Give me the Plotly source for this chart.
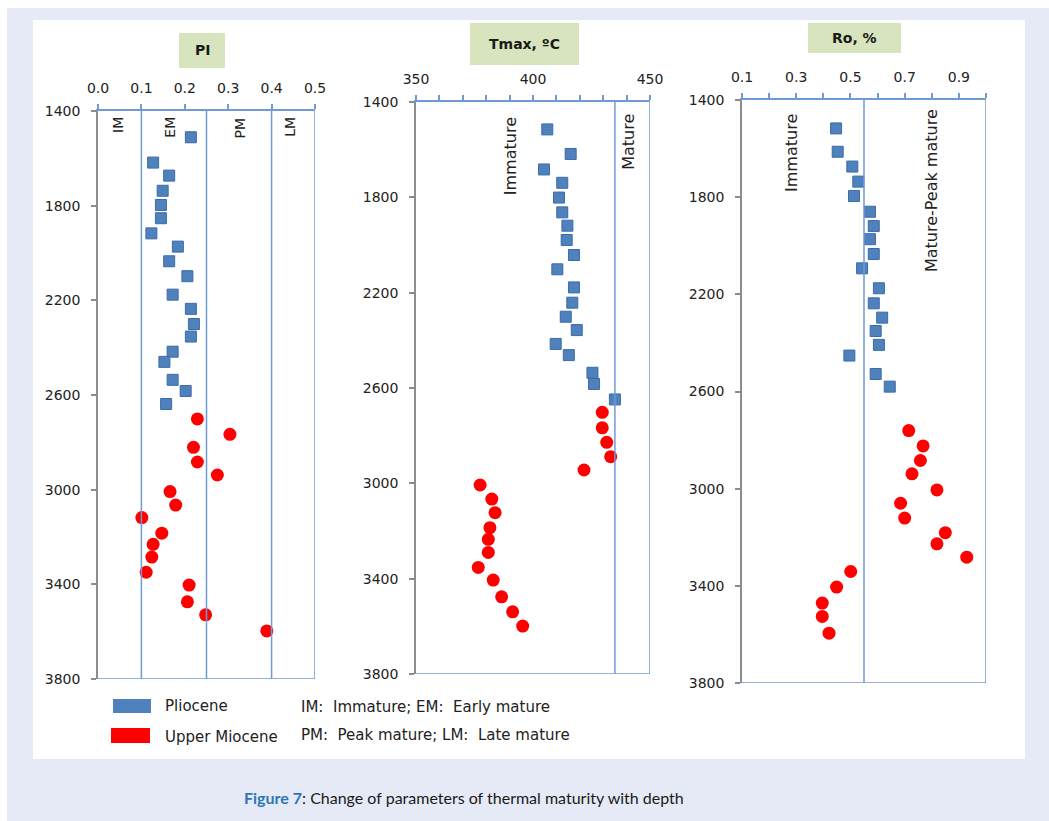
import plotly.graph_objects as go

W, H = 1049, 821

# ---------------- data ----------------
pi_plio_depth = [1511, 1618, 1673, 1737, 1797, 1853, 1917, 1973, 2035, 2098, 2176, 2236, 2300, 2353, 2417, 2460, 2536, 2583, 2638]
pi_plio = [0.214, 0.127, 0.164, 0.149, 0.145, 0.145, 0.123, 0.184, 0.164, 0.206, 0.172, 0.214, 0.221, 0.214, 0.172, 0.153, 0.172, 0.202, 0.157]
pi_mio_depth = [2701, 2766, 2821, 2883, 2938, 3008, 3065, 3118, 3184, 3231, 3285, 3349, 3403, 3474, 3529, 3597]
pi_mio = [0.229, 0.304, 0.220, 0.229, 0.275, 0.166, 0.179, 0.101, 0.147, 0.127, 0.124, 0.111, 0.210, 0.206, 0.248, 0.389]

tmax_plio_depth = [1515, 1618, 1683, 1739, 1801, 1863, 1919, 1979, 2042, 2102, 2178, 2242, 2301, 2357, 2415, 2462, 2536, 2583, 2648]
tmax_plio = [406.1, 416.1, 404.7, 412.5, 411.1, 412.5, 414.7, 414.4, 417.5, 410.4, 417.5, 416.8, 414.0, 418.7, 409.7, 415.3, 425.4, 426.1, 435.0]
tmax_mio_depth = [2702, 2767, 2828, 2888, 2944, 3007, 3066, 3123, 3186, 3235, 3290, 3353, 3406, 3476, 3539, 3599]
tmax_mio = [429.6, 429.6, 431.5, 433.2, 421.8, 377.4, 382.4, 383.8, 381.6, 380.9, 380.9, 376.6, 383.0, 386.6, 391.3, 395.6]

ro_plio_depth = [1517, 1613, 1674, 1736, 1795, 1860, 1919, 1973, 2034, 2093, 2175, 2237, 2296, 2351, 2408, 2452, 2528, 2580]
ro_plio = [0.447, 0.453, 0.507, 0.529, 0.513, 0.572, 0.586, 0.572, 0.586, 0.543, 0.605, 0.586, 0.617, 0.593, 0.605, 0.496, 0.593, 0.645]
ro_mio_depth = [2761, 2824, 2884, 2939, 3005, 3060, 3121, 3181, 3227, 3282, 3341, 3405, 3471, 3526, 3595]
ro_mio = [0.715, 0.768, 0.758, 0.727, 0.819, 0.685, 0.700, 0.850, 0.819, 0.929, 0.501, 0.449, 0.396, 0.396, 0.421]

depth_ticks = [1400, 1800, 2200, 2600, 3000, 3400, 3800]
pi_ticks = [0.0, 0.1, 0.2, 0.3, 0.4, 0.5]
pi_labels = ["0.0", "0.1", "0.2", "0.3", "0.4", "0.5"]
tmax_ticks = [350, 360, 370, 380, 390, 400, 410, 420, 430, 440, 450]
tmax_labels = ["350", "", "", "", "", "400", "", "", "", "", "450"]
ro_ticks = [0.1, 0.2, 0.3, 0.4, 0.5, 0.6, 0.7, 0.8, 0.9, 1.0]
ro_labels = ["0.1", "", "0.3", "", "0.5", "", "0.7", "", "0.9", ""]

pi_bounds = [0.1, 0.25, 0.4, 0.5]
tmax_bounds = [435, 450]
ro_bounds = [0.55, 1.0]

# ---------------- styling ----------------
FONT = "DejaVu Sans"
BLUE_M = "#4f81bd"
RED_M = "#ff0000"
AX_BLUE = "#6f9ad4"
AX_GRAY = "#8c8c8c"
TXT = "#222222"
LAV = "#e6eaf6"


def px(x):
    return x / W


def py(y):
    return 1 - y / H


panels = [
    ("x", "y", (98, 315), (111, 679), [0, 0.5]),
    ("x2", "y2", (416, 650), (102, 674), [350, 450]),
    ("x3", "y3", (742, 986), (100, 683), [0.1, 1.0]),
]

fig = go.Figure()

sq = dict(symbol="square", size=11, color=BLUE_M, line=dict(color="#3d6ba8", width=1))
ci = dict(symbol="circle", size=13, color=RED_M, line=dict(width=0))

fig.add_trace(go.Scatter(x=pi_plio, y=pi_plio_depth, mode="markers", marker=sq, xaxis="x", yaxis="y", name="Pliocene"))
fig.add_trace(go.Scatter(x=pi_mio, y=pi_mio_depth, mode="markers", marker=ci, xaxis="x", yaxis="y", name="Upper Miocene"))
fig.add_trace(go.Scatter(x=tmax_plio, y=tmax_plio_depth, mode="markers", marker=sq, xaxis="x2", yaxis="y2", name="Pliocene"))
fig.add_trace(go.Scatter(x=tmax_mio, y=tmax_mio_depth, mode="markers", marker=ci, xaxis="x2", yaxis="y2", name="Upper Miocene"))
fig.add_trace(go.Scatter(x=ro_plio, y=ro_plio_depth, mode="markers", marker=sq, xaxis="x3", yaxis="y3", name="Pliocene"))
fig.add_trace(go.Scatter(x=ro_mio, y=ro_mio_depth, mode="markers", marker=ci, xaxis="x3", yaxis="y3", name="Upper Miocene"))

layout = dict(
    width=W, height=H, autosize=False,
    margin=dict(l=0, r=0, t=0, b=0, pad=0, autoexpand=False),
    paper_bgcolor=LAV,
    plot_bgcolor="rgba(0,0,0,0)",
    showlegend=False,
    font=dict(family=FONT, size=14, color=TXT),
)

xticks = [
    dict(tickvals=pi_ticks, ticktext=pi_labels),
    dict(tickvals=tmax_ticks, ticktext=tmax_labels),
    dict(tickvals=ro_ticks, ticktext=ro_labels),
]

for i, (xa, ya, (x0, x1), (y0, y1), xr) in enumerate(panels):
    xkey = "xaxis" if xa == "x" else "xaxis" + xa[1:]
    ykey = "yaxis" if ya == "y" else "yaxis" + ya[1:]
    layout[xkey] = dict(
        domain=[px(x0), px(x1)], range=xr, anchor=ya, side="top", automargin=False,
        showgrid=False, zeroline=False, showline=True, linecolor=AX_BLUE, linewidth=1.5,
        ticks="outside", ticklen=5, tickcolor=AX_BLUE, tickwidth=1.5,
        tickmode="array", ticklabelstandoff=6,
        tickfont=dict(family=FONT, size=14, color=TXT),
        **xticks[i],
    )
    layout[ykey] = dict(
        domain=[py(y1), py(y0)], range=[3800, 1400], anchor=xa, automargin=False,
        showgrid=False, zeroline=False, showline=True, linecolor=AX_GRAY, linewidth=1.5,
        ticks="outside", ticklen=5, tickcolor=AX_GRAY, tickwidth=1.5,
        tickmode="array", tickvals=depth_ticks, ticklabelstandoff=8,
        tickfont=dict(family=FONT, size=14, color=TXT),
    )

fig.update_layout(**layout)

shapes = []
shapes.append(dict(type="rect", xref="paper", yref="paper", x0=0, x1=px(7), y0=0, y1=1,
                   fillcolor="white", line=dict(width=0), layer="below"))
shapes.append(dict(type="rect", xref="paper", yref="paper", x0=0, x1=1, y0=py(8), y1=1,
                   fillcolor="white", line=dict(width=0), layer="below"))
shapes.append(dict(type="rect", xref="paper", yref="paper", x0=px(33), x1=px(1025), y0=py(759), y1=py(20),
                   fillcolor="white", line=dict(width=0), layer="below"))

bounds = [pi_bounds, tmax_bounds, ro_bounds]
for i, (xa, ya, _, _, xr) in enumerate(panels):
    for b in bounds[i]:
        shapes.append(dict(type="line", xref=xa, yref=ya, x0=b, x1=b, y0=1400, y1=3800,
                           line=dict(color=AX_BLUE, width=1.5)))
    shapes.append(dict(type="line", xref=xa, yref=ya, x0=xr[0], x1=xr[1], y0=3800, y1=3800,
                       line=dict(color=AX_BLUE, width=1.5)))

boxes = [((179, 225), (33, 68)), ((470, 579), (23, 65)), ((808, 901), (23, 53))]
for (bx0, bx1), (by0, by1) in boxes:
    shapes.append(dict(type="rect", xref="paper", yref="paper", x0=px(bx0), x1=px(bx1),
                       y0=py(by1), y1=py(by0), fillcolor="#d7e4bd", line=dict(width=0)))

shapes.append(dict(type="rect", xref="paper", yref="paper", x0=px(113), x1=px(151), y0=py(713), y1=py(699),
                   fillcolor=BLUE_M, line=dict(width=0)))
shapes.append(dict(type="rect", xref="paper", yref="paper", x0=px(111), x1=px(150), y0=py(743), y1=py(728),
                   fillcolor=RED_M, line=dict(width=0)))

fig.update_layout(shapes=shapes)

ann = []
titles = [("PI", 202, 50), ("Tmax, ºC", 524, 44), ("Ro, %", 854, 38)]
for t, tx, ty in titles:
    ann.append(dict(text="<b>" + t + "</b>", xref="paper", yref="paper", x=px(tx), y=py(ty),
                    xanchor="center", yanchor="middle", showarrow=False,
                    font=dict(family=FONT, size=14, color="#1a1a1a")))

rot = [
    ("x", "y", 0.046, 1417, "IM", 14),
    ("x", "y", 0.164, 1417, "EM", 14),
    ("x", "y", 0.327, 1417, "PM", 14),
    ("x", "y", 0.442, 1417, "LM", 14),
    ("x2", "y2", 390.2, 1455, "Immature", 16),
    ("x2", "y2", 440.5, 1442, "Mature", 16),
    ("x3", "y3", 0.280, 1450, "Immature", 16),
    ("x3", "y3", 0.8, 1428, "Mature-Peak mature", 16),
]
for xa, ya, xv, yv, t, fs in rot:
    ann.append(dict(text=t, xref=xa, yref=ya, x=xv, y=yv, textangle=-90,
                    xanchor="center", yanchor="top", showarrow=False,
                    font=dict(family=FONT, size=fs, color=TXT)))

legend_txt = [
    ("Pliocene", 163, 706),
    ("Upper Miocene", 163, 737),
    ("IM:  Immature; EM:  Early mature", 299, 707),
    ("PM:  Peak mature; LM:  Late mature", 299, 735),
]
for t, tx, ty in legend_txt:
    ann.append(dict(text=t.replace("  ", "&nbsp; "), xref="paper", yref="paper", x=px(tx), y=py(ty),
                    xanchor="left", yanchor="middle", showarrow=False,
                    font=dict(family=FONT, size=15, color=TXT)))

ann.append(dict(text="<b><span style='color:#2e75b6'>Figure 7</span></b>: Change of parameters of thermal maturity with depth",
                xref="paper", yref="paper", x=px(464), y=py(797), xanchor="center", yanchor="middle",
                showarrow=False, font=dict(family="Lato", size=16, color="#1a1a1a")))

fig.update_layout(annotations=ann)

fig.write_html("out.html", config={"responsive": False},
               post_script="document.documentElement.style.margin='0';document.body.style.margin='0';")
